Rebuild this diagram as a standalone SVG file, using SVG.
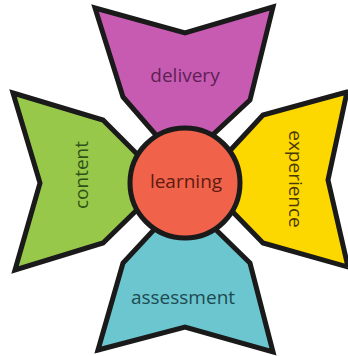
<svg xmlns="http://www.w3.org/2000/svg" width="348" height="356" viewBox="0 0 348 356">
<style>
.petal{stroke:#1a1a1a;stroke-width:5;stroke-linejoin:miter}
.lbl{font-family:"Open Sans","Noto Sans",sans-serif;font-size:19px;text-anchor:middle}
</style>
<rect width="348" height="356" fill="#fff"/>
<g id="delivery">
<polygon class="petal" fill="#C75BB2" points="95,8 185,33 273,7 250,100 205,142 162,142 123,97"/>
<text class="lbl" x="185" y="82" fill="#5E1F55">delivery</text>
</g>
<g id="content">
<polygon class="petal" fill="#97C84A" points="13,93 103,120 145,162 145,202 103,243 15,270 40,183"/>
<text class="lbl" transform="translate(88,175) rotate(-90)" fill="#2E5218">content</text>
</g>
<g id="experience">
<polygon class="petal" fill="#FDD800" points="347,92 263,115 225,156 226,205 263,243 348,267 328,180"/>
<text class="lbl" transform="translate(289,179) rotate(90)" fill="#4A3A05">experience</text>
</g>
<g id="assessment">
<polygon class="petal" fill="#6CC6CF" points="98,350 185,327 273,352 250,263 208,222 162,221 123,263"/>
<text class="lbl" x="183" y="304" fill="#1D4A52">assessment</text>
</g>
<g id="learning">
<circle class="petal" fill="#F0624A" cx="185" cy="183" r="55"/>
<text class="lbl" x="186" y="188" fill="#5E1A10">learning</text>
</g>
</svg>
